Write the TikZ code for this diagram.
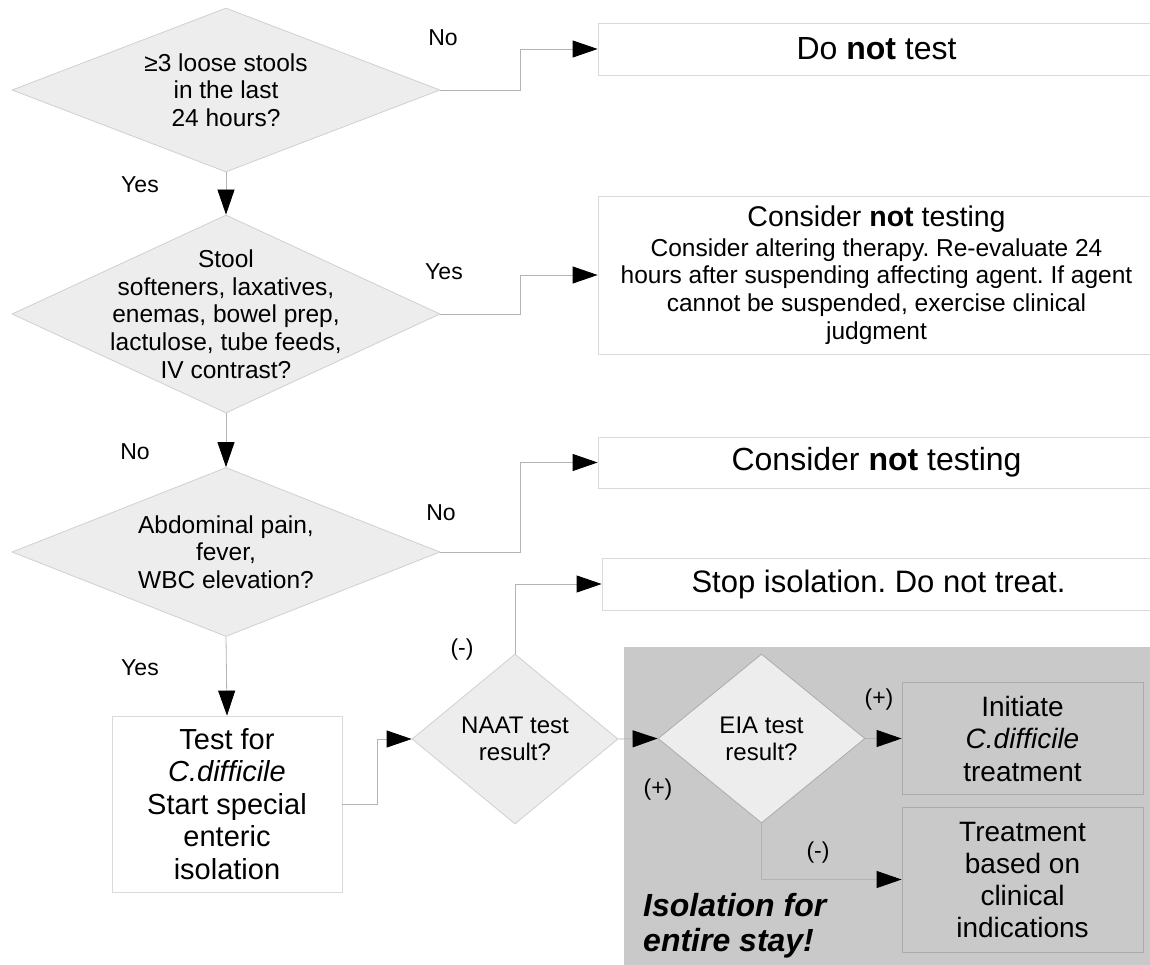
\documentclass[tikz,border=0pt]{standalone}
\usepackage{fontspec}
\setmainfont{Liberation Sans}
\usetikzlibrary{shapes.geometric,arrows.meta}
\definecolor{dfill}{HTML}{EDEDED}
\definecolor{dline}{HTML}{D0D0D0}
\definecolor{bline}{HTML}{DADADA}
\definecolor{cline}{HTML}{B3B3B3}
\definecolor{zonegray}{HTML}{C9C9C9}
\definecolor{zline}{HTML}{ABABAB}
\newcommand\fsDia{\fontsize{24.5pt}{27.7pt}\selectfont}
\newcommand\fsLab{\fontsize{23pt}{26pt}\selectfont}
\newcommand\fsBig{\fontsize{32pt}{36pt}\selectfont}
\newcommand\fsMid{\fontsize{28.5pt}{32.5pt}\selectfont}
\newcommand\fsBox{\fontsize{29pt}{32.5pt}\selectfont}
\frenchspacing
\tikzset{
  dia/.style={shape=diamond, draw=dline, fill=dfill, inner sep=0pt, line width=0.8pt},
  diatext/.style={align=center, font=\fsDia, inner sep=0pt},
  box/.style={shape=rectangle, draw=bline, fill=white, line width=0.8pt, align=center, inner sep=0pt},
  zbox/.style={shape=rectangle, draw=zline, fill=zonegray, line width=0.8pt, align=center, inner sep=0pt},
  conn/.style={draw=cline, line width=0.8pt, -{Triangle[length=25pt,width=17pt,color=black,fill=black]}},
  lab/.style={font=\fsLab, inner sep=0pt}
}
\begin{document}
\begin{tikzpicture}[x=1pt,y=-1pt]
\useasboundingbox (0,0) rectangle (1150,965);
\fill[white] (0,0) rectangle (1150,965);
% grey zone
\fill[zonegray] (624,647) rectangle (1160,970);

% diamonds
\node[dia, minimum width=428pt, minimum height=164pt] (d1) at (226,90) {};
\node[diatext] (d1t) at (d1.center) {≥3 loose stools\\in the last\\24 hours?};
\node[dia, minimum width=428pt, minimum height=198pt] (d2) at (226,314) {};
\node[diatext] (d2t) at (d2.center) {Stool\\softeners, laxatives,\\enemas, bowel prep,\\lactulose, tube feeds,\\IV contrast?};
\node[dia, minimum width=428pt, minimum height=169pt] (d3) at (226,552) {};
\node[diatext] (d3t) at (d3.center) {Abdominal pain,\\fever,\\WBC elevation?};
\node[dia, minimum width=206pt, minimum height=170pt] (naat) at (515,739) {};
\node[diatext, font=\fontsize{24pt}{27pt}\selectfont] (naatt) at (naat.center) {NAAT test\\result?};
\node[dia, draw=zline, minimum width=207pt, minimum height=169pt] (eia) at (761.5,738.5) {};
\node[diatext, font=\fontsize{24pt}{27pt}\selectfont] (eiat) at (eia.center) {EIA test\\result?};

% boxes
\node[box, minimum width=557pt, minimum height=52pt] (b1) at (876.5,49) {\fsBig Do \textbf{not} test};
\node[box, minimum width=557pt, minimum height=158pt, font=\fsDia] (b2) at (876.5,275)
  {{\fsMid Consider \textbf{not} testing}\\[2pt]
   Consider altering therapy. Re-evaluate 24\\
   hours after suspending affecting agent. If agent\\
   cannot be suspended, exercise clinical\\
   judgment};
\node[box, minimum width=557pt, minimum height=51pt] (b3) at (876.5,462.5) {\fsBig Consider \textbf{not} testing};
\node[box, minimum width=553pt, minimum height=52pt] (b4) at (878.5,584) {\fontsize{31pt}{35pt}\selectfont Stop isolation. Do not treat.};
\node[box, minimum width=230pt, minimum height=176pt, font=\fsBox] (test) at (227,804)
  {Test for\\\textit{C.difficile}\\Start special\\enteric\\isolation};
\node[zbox, minimum width=241pt, minimum height=112pt, font=\fontsize{28pt}{32.5pt}\selectfont] (init) at (1022.5,738.5)
  {Initiate\\\textit{C.difficile}\\treatment};
\node[zbox, minimum width=241pt, minimum height=145pt, font=\fontsize{28pt}{32pt}\selectfont] (treat) at (1022.5,879.5)
  {Treatment\\based on\\clinical\\indications};
\node[anchor=west, align=left, inner sep=0pt, font=\fontsize{32pt}{35pt}\selectfont\bfseries\itshape] (iso) at (643,925.5)
  {Isolation for\\entire stay!};

% connectors
\draw[conn] (d1.east) -- (520,90) |- (b1.west);
\draw[conn] (d2.east) -- (520,314) |- (b2.west);
\draw[conn] (d3.east) -- (520,552) |- (b3.west);
\draw[conn] (naat.north) |- (b4.west);
\draw[conn] (d1.south) -- (d2.north);
\draw[conn] (d2.south) -- (d3.north);
\draw[conn] (d3.south) -- (test.north);
\draw[conn] (test.east) -- (377,804) |- (naat.west);
\draw[conn] (naat.east) -- (eia.west);
\draw[conn] (eia.east) -- (init.west);
\draw[conn] (eia.south) |- (treat.west);

% labels
\node[lab] (l1) at (443,38) {No};
\node[lab] (l2) at (140,185) {Yes};
\node[lab] (l3) at (444,272) {Yes};
\node[lab] (l4) at (135,452) {No};
\node[lab] (l5) at (441,513) {No};
\node[lab] (l6) at (140,668) {Yes};
\node[lab] (l7) at (462,650) {(-)};
\node[lab] (l8) at (658,790) {(+)};
\node[lab] (l9) at (879,700) {(+)};
\node[lab] (l10) at (818,853) {(-)};
\end{tikzpicture}
\end{document}
